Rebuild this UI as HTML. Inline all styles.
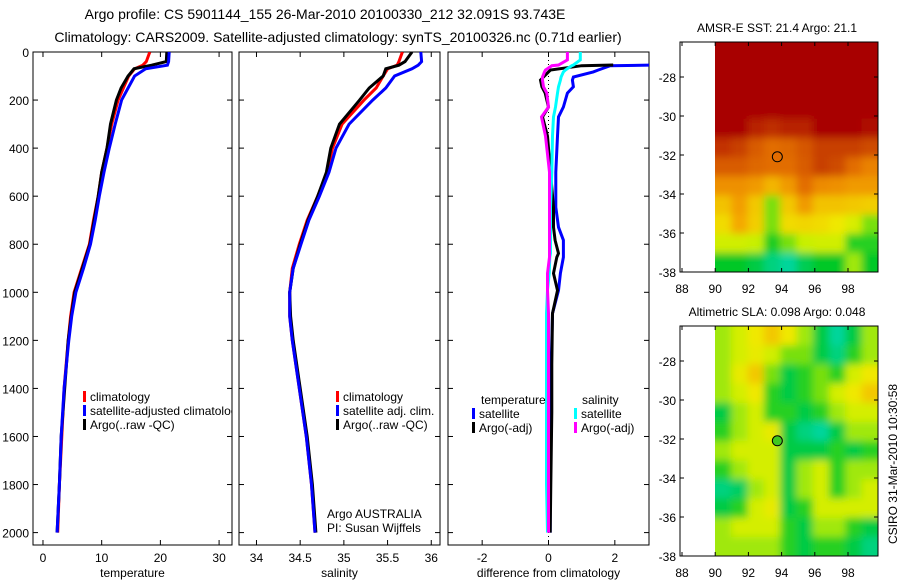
<!DOCTYPE html>
<html><head><meta charset="utf-8"><style>
body{margin:0;background:#fff;}
svg{display:block;font-family:"Liberation Sans",sans-serif;}
</style></head><body>
<svg id="c" width="900" height="580" xmlns="http://www.w3.org/2000/svg">
<defs>
<clipPath id="cp1"><rect x="33" y="52" width="199" height="493"/></clipPath>
<clipPath id="cp2"><rect x="239" y="52" width="201" height="493"/></clipPath>
<clipPath id="cp3"><rect x="448" y="52" width="201" height="493"/></clipPath>
<clipPath id="cm1"><rect x="715" y="42" width="163" height="230"/></clipPath>
<clipPath id="cm2"><rect x="715" y="326" width="163" height="230"/></clipPath>
<filter id="bl" x="-10%" y="-10%" width="120%" height="120%"><feGaussianBlur stdDeviation="4"/></filter>
</defs>
<text x="325" y="19" font-size="14" text-anchor="middle">Argo profile: CS 5901144_155 26-Mar-2010 20100330_212 32.091S 93.743E</text>
<text x="338" y="42" font-size="14" text-anchor="middle">Climatology: CARS2009. Satellite-adjusted climatology: synTS_20100326.nc (0.71d earlier)</text>
<g id="g"></g>
</svg>
<script>
// ---- profile data ----
const tDepth = [0,40,55,70,100,150,200,300,400,500,600,700,800,900,1000,1100,1200,1400,1600,1800,2000];
const tClim  = [18.2,17.6,17,15.6,14.6,13.7,12.8,11.7,10.9,10,9.4,8.6,7.9,6.6,5.3,4.7,4.3,3.6,3.2,2.8,2.5];
const tSat   = [21.5,21.4,21.2,17.5,15.6,14.5,13.4,12.3,11.3,10.4,9.6,8.9,8.1,6.9,5.6,4.9,4.4,3.6,3.1,2.8,2.4];
const tArgo  = [21.1,21,18.5,15.5,14.5,13.3,12.5,11.5,10.9,10,9.4,8.7,8,6.7,5.4,4.8,4.3,3.7,3.1,2.8,2.4];
const sDepth = tDepth;
const sClim  = [35.67,35.63,35.61,35.5,35.45,35.37,35.23,34.98,34.87,34.81,34.70,34.58,34.49,34.41,34.38,34.38,34.41,34.49,34.57,34.63,34.67];
const sSat   = [35.88,35.89,35.85,35.78,35.58,35.48,35.33,35.06,34.91,34.83,34.72,34.60,34.51,34.42,34.38,34.38,34.41,34.49,34.57,34.63,34.67];
const sArgo  = [35.78,35.7,35.63,35.48,35.45,35.29,35.18,34.95,34.85,34.80,34.70,34.59,34.50,34.42,34.38,34.39,34.42,34.50,34.58,34.64,34.68];
const dTDepth = [54,57,75,83,104,117,145,171,229,270,350,500,646,729,783,838,854,921,992,1088,1300,1500,1800,2000];
const dTsat  = [3.3,1.86,1.5,1.35,0.75,0.72,0.75,0.57,0.45,0.3,0.27,0.22,0.22,0.3,0.45,0.45,0.45,0.36,0.3,0.12,0.08,0.06,0.05,0.05];
const dTargo = [1.95,1.0,0.06,0.0,-0.15,-0.24,-0.2,-0.1,0,-0.18,-0.03,0.06,0.15,0.15,0.2,0.3,0.25,0.15,0.27,0.12,0.1,0.1,0.07,0.05];
const dSDepth = [0,33,54,57,75,83,104,117,145,171,229,270,350,500,646,729,783,838,854,921,992,1088,1300,1500,1800,2000];
const dSsat  = [0.96,0.96,0.75,0.7,0.51,0.45,0.38,0.36,0.3,0.27,0.21,0.15,0.12,0.1,0.06,0.06,0.06,0.06,0.04,0.02,-0.03,-0.06,-0.06,-0.06,-0.06,-0.03];
const dSargo = [0.57,0.57,0.3,0.1,-0.09,-0.12,-0.18,-0.18,-0.15,-0.05,0,-0.21,-0.09,0.03,0.03,0.03,0.03,0.03,0.03,-0.03,-0.03,0,0,0,0,0];
const depthTicks = [0,200,400,600,800,1000,1200,1400,1600,1800,2000];
const tTicks = [0,10,20,30];
const sTicks = [34,34.5,35,35.5,36];
const dTicks = [-2,0,2];
// ---- map data (rows: -26.2 -> -38 lat, cols: 90 -> 99.8 lon) ----
const sstGrid = [
[7,7,7,7,7,7,7,7,7,7],
[7,7,7,7,7,7,7,7,7,7],
[7,7,7,7,7,7,7,7,7,7],
[7,7,7,7,7,7,7,7,7,7],
[7,7,6.5,6.3,6.5,6.5,7,7,7,6.8],
[6.2,6,5.5,5.2,5.3,5.6,6,6,6,5.8],
[5.5,5.5,5.3,5.2,5.2,5.5,6,5.8,5.2,4.8],
[4.5,4.5,4.3,3.8,4.3,5.2,4.6,4.5,4.3,4.3],
[3.6,4.2,3.5,1.6,3.5,4.3,3.6,3.6,3.5,3.4],
[3.2,4,3.4,1.6,3.2,3.3,3.2,3,2.4,1.6],
[2.2,2.2,2,1.1,1.6,2,2.2,2.2,1.2,1.2],
[1,1,0.8,0.4,0.2,0.7,1,1,1.8,1]];
const slaGrid = [
[1.8,2.3,3,3.5,3,1.8,0.8,0.2,0.8,1.8],
[1.8,2.3,2.8,2.2,1.6,1.6,0.8,0.4,1.2,1.8],
[1.8,2.8,3.5,1.6,0.8,1.2,1.6,1.2,2.3,3],
[1.8,2.3,3,1.2,0.8,1.2,1.6,2.3,3,3.5],
[0.8,1.8,2.3,1.2,1.2,0.8,1.2,1.8,2.3,2.3],
[1.2,1.8,2.3,2.8,0.8,0.4,0.2,0.8,1.8,1.8],
[1.8,2.3,2.3,2.3,0.8,0.8,0.8,1.2,0.8,1.2],
[1.2,1.8,2.3,2.3,0.8,1.8,2.3,1.2,1.8,1.8],
[0.4,0.6,1.8,2.3,0.8,1.8,2.3,1.2,1.8,2.3],
[0.8,1.2,2.3,2.8,0.8,1.2,2.3,2.3,2.3,2.3],
[1.8,2.3,2.3,2.3,1.2,0.8,1.8,1.8,1.2,0.8],
[1.8,1.8,1.8,1.8,1.2,0.8,1.2,1.2,0.8,0.4]];
const latTicks = [-28,-30,-32,-34,-36,-38];
const lonTicks = [88,90,92,94,96,98];
const argoLon = 93.743, argoLat = -32.091;

const NS='http://www.w3.org/2000/svg';
const root=document.getElementById('g');
function mk(tag,attrs,parent,txt){const e=document.createElementNS(NS,tag);for(const k in attrs)e.setAttribute(k,attrs[k]);if(txt!==undefined)e.textContent=txt;(parent||root).appendChild(e);return e;}
const yD = d => 52 + d*0.2403;

function panel(x0,x1,xmin,xmax,ticks,fmt,label,clip,name,leftLabels){
  const xs = v => x0 + (v-xmin)/(xmax-xmin)*(x1-x0);
  const g=mk('g',{});
  
  
  const frame=mk('rect',{x:x0,y:52,width:x1-x0,height:493,fill:'none',stroke:'#000','stroke-width':1},g);
  
  
  depthTicks.forEach(d=>{
    const y=yD(d);
    mk('line',{x1:x0,x2:x0+5,y1:y,y2:y,stroke:'#000'},g);
    mk('line',{x1:x1-5,x2:x1,y1:y,y2:y,stroke:'#000'},g);
    if(leftLabels){const t=mk('text',{x:x0-4,y:y+5,'font-size':12,'text-anchor':'end'},g,String(d));
      
      }
  });
  ticks.forEach(v=>{
    const x=xs(v);
    mk('line',{x1:x,x2:x,y1:545,y2:540,stroke:'#000'},g);
    mk('line',{x1:x,x2:x,y1:52,y2:57,stroke:'#000'},g);
    const t=mk('text',{x:x,y:562,'font-size':12,'text-anchor':'middle'},g,fmt(v));
    
    
  });
  const l=mk('text',{x:(x0+x1)/2,y:577,'font-size':12,'text-anchor':'middle'},g,label);
  
  
  const lines=mk('g',{'clip-path':'url(#'+clip+')'},g);
  return {xs,lines};
}
function series(p,depths,vals,color,name,w){
  const pts=depths.map((d,i)=>p.xs(vals[i]).toFixed(1)+','+yD(d).toFixed(1)).join(' ');
  const e=mk('polyline',{points:pts,fill:'none',stroke:color,'stroke-width':w||3,'stroke-linejoin':'miter'},p.lines);
  
  
}
function legend(parent,x,y,color,text,name){
  mk('rect',{x:x-2,y:y-9,width:3,height:11,fill:color},parent);
  const t=mk('text',{x:x+5,y:y+1,'font-size':12},parent,text);
  
  
}

// panel 1 temperature
const p1=panel(33,232,-1.7,32.2,tTicks,v=>String(v),'temperature','cp1','temperature-panel',true);
series(p1,tDepth,tClim,'#ff0000','temp-climatology-line');
series(p1,tDepth,tArgo,'#000000','temp-argo-line');
series(p1,tDepth,tSat,'#0000ff','temp-satellite-line');
legend(p1.lines,85,400,'#ff0000','climatology','legend-climatology');
legend(p1.lines,85,414,'#0000ff','satellite-adjusted climatology','legend-satellite');
legend(p1.lines,85,428,'#000000','Argo(..raw -QC)','legend-argo');

// panel 2 salinity
const p2=panel(239,440,33.8,36.1,sTicks,v=>String(v),'salinity','cp2','salinity-panel',false);
series(p2,sDepth,sClim,'#ff0000','sal-climatology-line');
series(p2,sDepth,sArgo,'#000000','sal-argo-line');
series(p2,sDepth,sSat,'#0000ff','sal-satellite-line');
legend(p2.lines,338,400,'#ff0000','climatology','legend-climatology');
legend(p2.lines,338,414,'#0000ff','satellite adj. clim.','legend-satellite');
legend(p2.lines,338,428,'#000000','Argo(..raw -QC)','legend-argo');
const a1=mk('text',{x:327,y:518,'font-size':12},root,'Argo AUSTRALIA');


const a2=mk('text',{x:327,y:532,'font-size':12},root,'PI: Susan Wijffels');



// panel 3 differences
const p3=panel(448,649,-3.03,3.03,dTicks,v=>String(v),'difference from climatology','cp3','difference-panel',false);
mk('line',{x1:p3.xs(0),x2:p3.xs(0),y1:52,y2:545,stroke:'#000','stroke-dasharray':'1,3'},p3.lines);
series(p3,dTDepth,dTsat,'#0000ff','diff-temp-satellite-line');
series(p3,dTDepth,dTargo,'#000000','diff-temp-argo-line');
series(p3,dSDepth,dSsat,'#00ffff','diff-sal-satellite-line');
series(p3,dSDepth,dSargo,'#ff00ff','diff-sal-argo-line');
const lt=mk('text',{x:481,y:404,'font-size':12},p3.lines,'temperature');


const ls=mk('text',{x:582,y:404,'font-size':12},p3.lines,'salinity');


legend(p3.lines,474,417,'#0000ff','satellite','legend-temp-satellite');
legend(p3.lines,474,431,'#000000','Argo(-adj)','legend-temp-argo');
legend(p3.lines,576,417,'#00ffff','satellite','legend-sal-satellite');
legend(p3.lines,576,431,'#ff00ff','Argo(-adj)','legend-sal-argo');

// ---- maps ----
const cmap=[[0,216,184],[0,200,40],[200,240,0],[240,232,0],[244,168,0],[232,120,0],[200,64,0],[168,0,0]];
function col(v){v=Math.max(0,Math.min(7,v));const i=Math.min(6,Math.floor(v)),f=v-i;const a=cmap[i],b=cmap[i+1];
  return 'rgb('+a.map((c,k)=>Math.round(c+(b[k]-c)*f)).join(',')+')';}
function map(top,grid,title,clip,name,filled){
  const xL = lon => 682 + (lon-88)*16.6;
  const yL = lat => top + 35 + (-28-lat)*19.5;
  const g=mk('g',{});
  
  
  const tt=mk('text',{x:777,y:top-10,'font-size':12,'text-anchor':'middle'},g,title);
  
  
  const cg=mk('g',{'clip-path':'url(#'+clip+')'},g);
  const bg=mk('g',{filter:'url(#bl)'},cg);
  const nr=grid.length,nc=grid[0].length;
  const cw=163/nc, ch=230/nr;
  for(let r=-2;r<nr+2;r++)for(let c=-2;c<nc+2;c++){
    const v=grid[Math.max(0,Math.min(nr-1,r))][Math.max(0,Math.min(nc-1,c))];
    const cell=mk('rect',{x:(715+c*cw).toFixed(1),y:(top+r*ch).toFixed(1),width:(cw+0.6).toFixed(1),height:(ch+0.6).toFixed(1),fill:col(v)},bg);
    
    
  }
  const fr=mk('rect',{x:680,y:top,width:198,height:230,fill:'none',stroke:'#000'},g);
  
  
  latTicks.forEach(l=>{const y=yL(l);
    mk('line',{x1:680,x2:684,y1:y,y2:y,stroke:'#000'},g);
    mk('line',{x1:874,x2:878,y1:y,y2:y,stroke:'#000'},g);
    const t=mk('text',{x:676,y:y+5,'font-size':12,'text-anchor':'end'},g,String(l));
    
    });
  lonTicks.forEach(l=>{const x=xL(l);
    mk('line',{x1:x,x2:x,y1:top+230,y2:top+226,stroke:'#000'},g);
    mk('line',{x1:x,x2:x,y1:top,y2:top+4,stroke:'#000'},g);
    const t=mk('text',{x:x,y:top+251,'font-size':12,'text-anchor':'middle'},g,String(l));
    
    });
  const m=mk('circle',{cx:xL(argoLon),cy:yL(argoLat),r:5,fill:filled?'#40c820':'none',stroke:'#000','stroke-width':1},g);
  
  
}
map(42,sstGrid,'AMSR-E SST: 21.4 Argo: 21.1','cm1','sst-map',false);
map(326,slaGrid,'Altimetric SLA: 0.098 Argo: 0.048','cm2','sla-map',true);
const cs=mk('text',{x:0,y:0,'font-size':12,'text-anchor':'middle',transform:'translate(897,464) rotate(-90)'},root,'CSIRO 31-Mar-2010 10:30:58');


</script>
</body></html>
